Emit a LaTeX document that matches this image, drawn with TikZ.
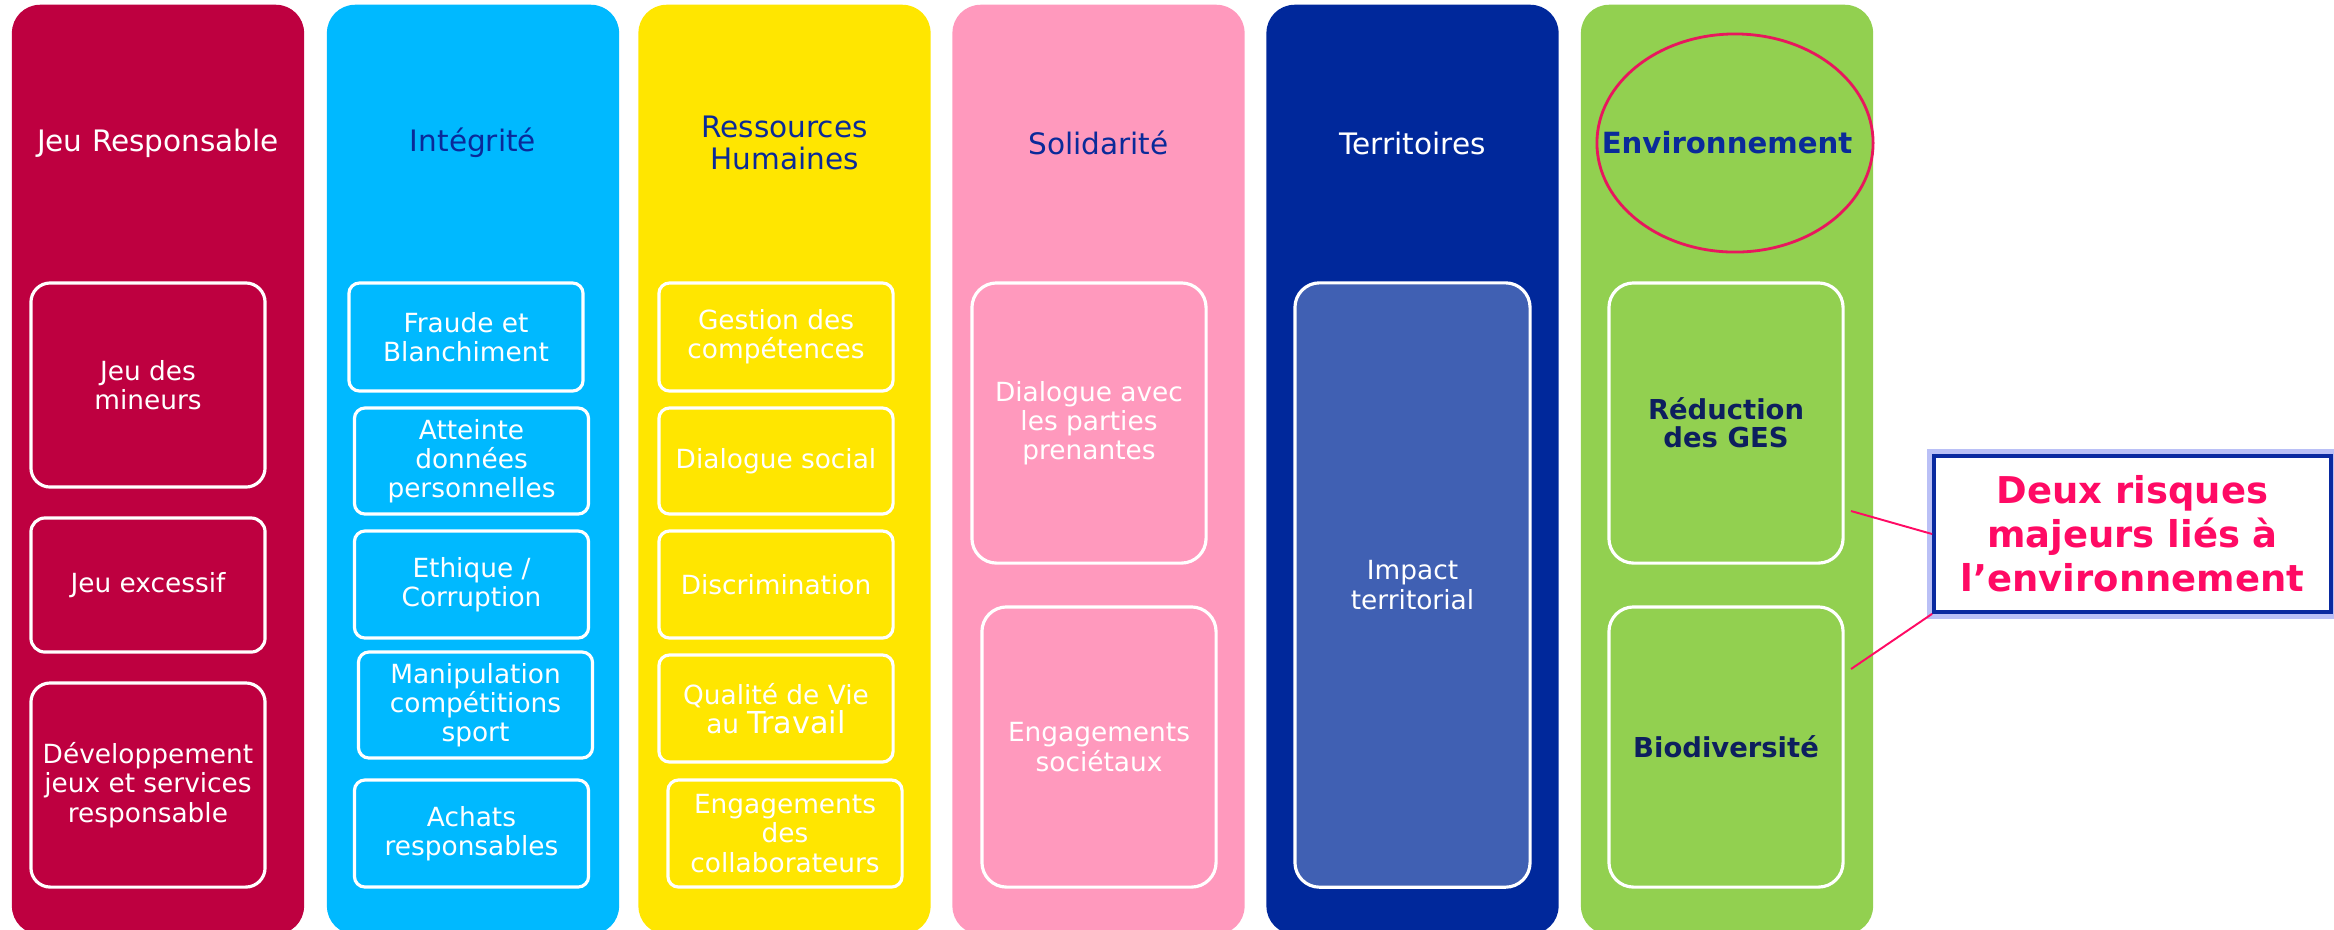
\documentclass[tikz,border=0pt]{standalone}
\usepackage{fontspec}
\setmainfont{DejaVu Sans}
\usetikzlibrary{shapes.geometric}

\definecolor{jeured}{HTML}{BE0040}
\definecolor{skyblue}{HTML}{00B9FF}
\definecolor{sunyellow}{HTML}{FFE600}
\definecolor{rosepink}{HTML}{FF99BD}
\definecolor{navyblue}{HTML}{00289B}
\definecolor{leafgreen}{HTML}{92D050}
\definecolor{impactblue}{HTML}{4060B3}
\definecolor{titleblue}{HTML}{0A2A99}
\definecolor{darknavy}{HTML}{0D1F5E}
\definecolor{alertpink}{HTML}{FF0A64}
\definecolor{ringred}{HTML}{E8175D}
\definecolor{frameblue}{HTML}{0A2AA0}
\definecolor{glowblue}{HTML}{8C96F0}

\tikzset{
  pillar/.style={rounded corners=8pt, minimum width=2.92cm, minimum height=9.29cm, inner sep=0pt},
  heading/.style={align=center, inner sep=0pt, font={\fontsize{8.4}{8.9}\selectfont}},
  risk/.style={draw=white, line width=0.9pt, rounded corners=3pt, align=center, inner sep=0pt,
    minimum width=2.34cm, minimum height=1.07cm, text=white, font={\fontsize{7.5}{8.3}\selectfont}},
  greenrisk/.style={risk, text=darknavy, font={\fontsize{7.8}{8}\selectfont\bfseries}},
  ring/.style={ellipse, draw=ringred, line width=0.8pt, minimum width=2.76cm, minimum height=2.18cm, inner sep=0pt},
  callout/.style={draw=frameblue, line width=1pt, fill=white, minimum width=3.97cm, minimum height=1.56cm,
    align=center, text=alertpink, font={\fontsize{10.5}{12.5}\selectfont\bfseries},
    preaction={draw=glowblue, line width=4pt, draw opacity=0.6}},
  tie/.style={draw=alertpink, line width=0.55pt}
}

\begin{document}
\begin{tikzpicture}[x=0.01cm, y=-0.01cm]
	\useasboundingbox (0,0) rectangle (2334,929);
	% the six columns
	\node[pillar, fill=jeured] (jeu) at (158,469.5) {};
	\node[pillar, fill=skyblue] (integ) at (473,469.5) {};
	\node[pillar, fill=sunyellow] (rh) at (784.5,469.5) {};
	\node[pillar, fill=rosepink] (solid) at (1098.5,469.5) {};
	\node[pillar, fill=navyblue] (terr) at (1412.5,469.5) {};
	\node[pillar, fill=leafgreen] (env) at (1727,469.5) {};
	% titles
	\node[heading, text=white] (tjeu) at (158,143) {Jeu Responsable};
	\node[heading, text=titleblue] (tinteg) at (473,143) {Intégrité};
	\node[heading, text=titleblue] (trh) at (784.5,143) {Ressources\\Humaines};
	\node[heading, text=titleblue] (tsolid) at (1098.5,143) {Solidarité};
	\node[heading, text=white] (tterr) at (1412.5,143) {Territoires};
	\node[heading, text=titleblue, font={\fontsize{8.3}{8.9}\selectfont\bfseries}] (tenv) at (1727,143) {Environnement};
	\node[ring] (halo) at (1735,143) {};
	% Jeu Responsable
	\node[risk, minimum height=2.04cm, rounded corners=5.5pt] (mineurs) at (148,385) {Jeu des\\mineurs};
	\node[risk, minimum height=1.34cm, rounded corners=4pt] (excessif) at (148,585) {Jeu excessif};
	\node[risk, minimum height=2.04cm, rounded corners=5.5pt] (devjeux) at (148,785) {Développement\\jeux et services\\responsable};
	% Integrite
	\node[risk, minimum height=1.08cm] (fraude) at (466,337) {Fraude et\\Blanchiment};
	\node[risk, minimum height=1.06cm] (donnees) at (471.5,461) {Atteinte\\données\\personnelles};
	\node[risk] (ethique) at (471.5,584.5) {Ethique /\\Corruption};
	\node[risk, minimum height=1.06cm] (manip) at (475.5,705) {Manipulation\\compétitions\\sport};
	\node[risk] (achats) at (471.5,833.5) {Achats\\responsables};
	% Ressources Humaines
	\node[risk, minimum height=1.08cm] (gestion) at (776,337) {Gestion des\\compétences};
	\node[risk, minimum height=1.06cm] (dialsoc) at (776,461) {Dialogue social};
	\node[risk] (discrim) at (776,584.5) {Discrimination};
	\node[risk] (qvt) at (776,708.5) {Qualité de Vie\\au {\fontsize{8.6}{8.3}\selectfont Travail}};
	\node[risk] (engcollab) at (785,833.5) {Engagements\\des\\collaborateurs};
	% Solidarite
	\node[risk, minimum height=2.8cm, rounded corners=7pt] (parties) at (1089,423) {Dialogue avec\\les parties\\prenantes};
	\node[risk, minimum height=2.8cm, rounded corners=7pt] (societal) at (1099,747) {Engagements\\sociétaux};
	% Territoires
	\node[risk, fill=impactblue, minimum width=2.35cm, minimum height=6.04cm, rounded corners=7pt] (impact) at (1412.5,585) {Impact\\territorial};
	% Environnement
	\node[greenrisk, minimum height=2.8cm, rounded corners=7pt] (ges) at (1726,423) {Réduction\\des GES};
	\node[greenrisk, minimum height=2.8cm, rounded corners=7pt] (biodiv) at (1726,747) {Biodiversité};
	% callout
	\node[callout] (callout) at (2132.5,534) {Deux risques\\majeurs liés à\\l’environnement};
	\coordinate (gesend) at (1851,511);
	\coordinate (bioend) at (1851,669);
	\draw[tie] (gesend) -- (callout.west);
	\draw[tie] (bioend) -- (callout.south west);
\end{tikzpicture}
\end{document}
